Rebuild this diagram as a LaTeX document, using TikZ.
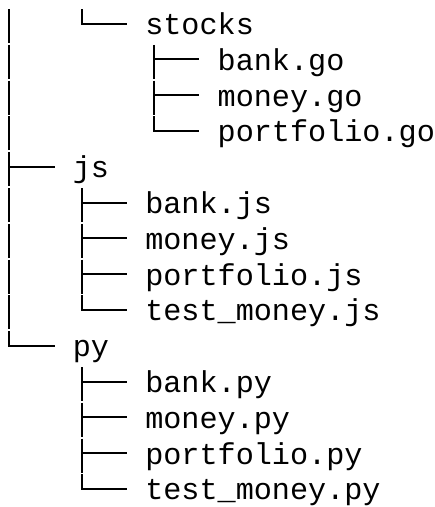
\documentclass[tikz,border=0pt]{standalone}
\usepackage{fontspec}
\setmonofont{Liberation Mono}
\newcommand\cwid{18.1}
\newcommand\lhgt{35.8}
\newcommand\bzero{34.5}
% vertical pass-through in row #1, column #2
\newcommand\trpass[2]{%
  \pgfmathsetmacro\bb{\bzero+\lhgt*#1}%
  \pgfmathsetmacro\xx{0.25+(#2+0.5)*\cwid}%
  \draw[treeline] (\xx,\bb-25.5) -- (\xx,\bb+8.5);}
% tee branch in row #1, column #2
\newcommand\trtee[2]{%
  \pgfmathsetmacro\bb{\bzero+\lhgt*#1}%
  \pgfmathsetmacro\xx{0.25+(#2+0.5)*\cwid}%
  \pgfmathsetmacro\xe{0.25+(#2+3)*\cwid}%
  \draw[treeline] (\xx,\bb-25.5) -- (\xx,\bb+8.5);
  \draw[treeline] (\xx,\bb-11) -- (\xe,\bb-11);}
% last branch in row #1, column #2
\newcommand\trlast[2]{%
  \pgfmathsetmacro\bb{\bzero+\lhgt*#1}%
  \pgfmathsetmacro\xx{0.25+(#2+0.5)*\cwid}%
  \pgfmathsetmacro\xe{0.25+(#2+3)*\cwid}%
  \draw[treeline] (\xx,\bb-25.5) -- (\xx,\bb-11) -- (\xe,\bb-11);}
\begin{document}
\begin{tikzpicture}[x=1pt,y=-1pt,
  treeline/.style={line width=2pt,draw=black,line join=miter},
  lbl/.style={anchor=base west,inner sep=0pt,text=black,
    font=\ttfamily\fontsize{30.17}{36}\selectfont}]
\useasboundingbox (0,0) rectangle (435,507);
% labels
\foreach \r/\c/\t/\n in {0/8/stocks/t0, 1/12/bank.go/t1, 2/12/money.go/t2,
  3/12/portfolio.go/t3, 4/4/js/t4, 5/8/bank.js/t5, 6/8/money.js/t6,
  7/8/portfolio.js/t7, 8/8/test\_money.js/t8, 9/4/py/t9, 10/8/bank.py/t10,
  11/8/money.py/t11, 12/8/portfolio.py/t12, 13/8/test\_money.py/t13}{
  \pgfmathsetmacro\bb{\bzero+\lhgt*\r}
  \pgfmathsetmacro\xx{0.25+\c*\cwid}
  \node[lbl] (\n) at (\xx,\bb) {\t};
}
% column 0
\trpass{0}{0}\trpass{1}{0}\trpass{2}{0}\trpass{3}{0}
\trtee{4}{0}
\trpass{5}{0}\trpass{6}{0}\trpass{7}{0}\trpass{8}{0}
\trlast{9}{0}
% column 4
\trlast{0}{4}
\trtee{5}{4}\trtee{6}{4}\trtee{7}{4}\trlast{8}{4}
\trtee{10}{4}\trtee{11}{4}\trtee{12}{4}\trlast{13}{4}
% column 8
\trtee{1}{8}\trtee{2}{8}\trlast{3}{8}
\end{tikzpicture}
\end{document}
